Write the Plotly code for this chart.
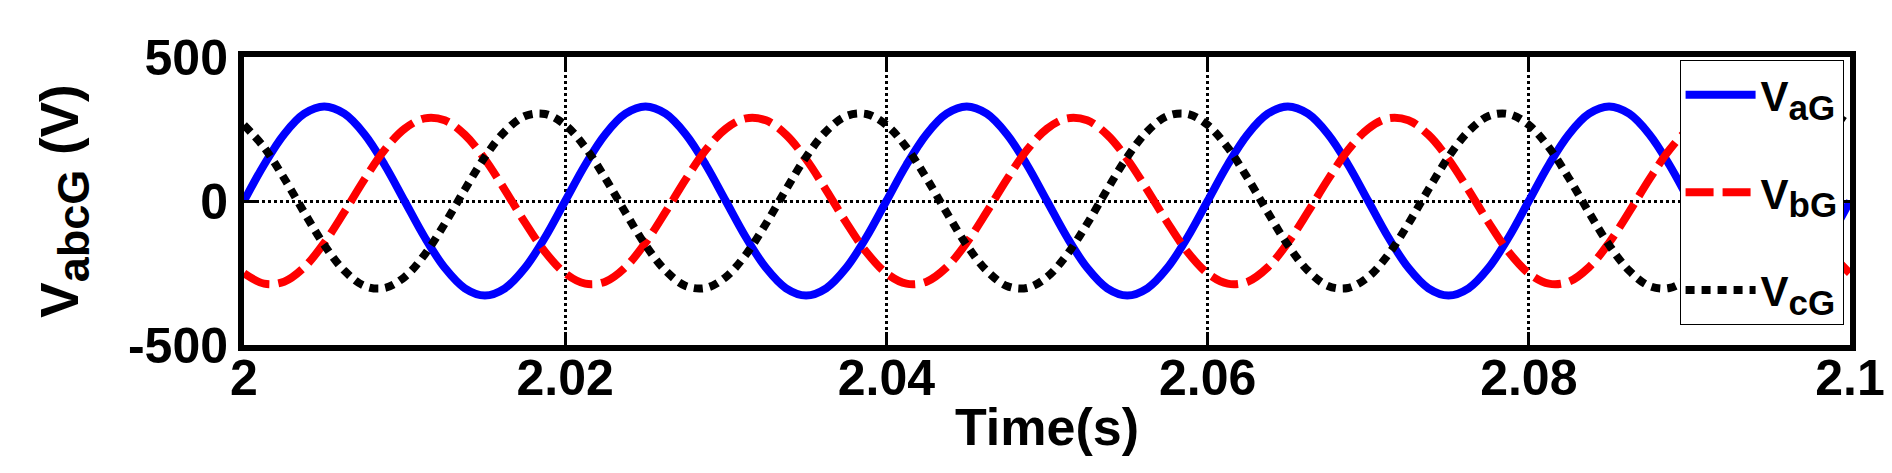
import plotly.graph_objects as go

# sampling grid (s)
time = [round(2 + i * 0.00125, 5) for i in range(81)]

v_aG = [0, 126, 232, 303, 328, 303, 232, 126, 0, -126, -232, -303, -328, -303, -232, -126,
        0, 126, 232, 303, 328, 303, 232, 126, 0, -126, -232, -303, -328, -303, -232, -126,
        0, 126, 232, 303, 328, 303, 232, 126, 0, -126, -232, -303, -328, -303, -232, -126,
        0, 126, 232, 303, 328, 303, 232, 126, 0, -126, -232, -303, -328, -303, -232, -126,
        0, 126, 232, 303, 328, 303, 232, 126, 0, -126, -232, -303, -328, -303, -232, -126,
        0]
v_bG = [-251, -287, -280, -230, -145, -38, 75, 177, 251, 287, 280, 230, 145, 38, -75, -177,
        -251, -287, -280, -230, -145, -38, 75, 177, 251, 287, 280, 230, 145, 38, -75, -177,
        -251, -287, -280, -230, -145, -38, 75, 177, 251, 287, 280, 230, 145, 38, -75, -177,
        -251, -287, -280, -230, -145, -38, 75, 177, 251, 287, 280, 230, 145, 38, -75, -177,
        -251, -287, -280, -230, -145, -38, 75, 177, 251, 287, 280, 230, 145, 38, -75, -177,
        -251]
v_cG = [264, 186, 79, -40, -153, -242, -295, -302, -264, -186, -79, 40, 153, 242, 295, 302,
        264, 186, 79, -40, -153, -242, -295, -302, -264, -186, -79, 40, 153, 242, 295, 302,
        264, 186, 79, -40, -153, -242, -295, -302, -264, -186, -79, 40, 153, 242, 295, 302,
        264, 186, 79, -40, -153, -242, -295, -302, -264, -186, -79, 40, 153, 242, 295, 302,
        264, 186, 79, -40, -153, -242, -295, -302, -264, -186, -79, 40, 153, 242, 295, 302,
        264]

x_ticks = [2, 2.02, 2.04, 2.06, 2.08, 2.1]
x_ticktext = ["2", "2.02", "2.04", "2.06", "2.08", "2.1"]
y_ticks = [-500, 0, 500]
y_ticktext = ["-500", "0", "500"]

FONT = "Liberation Sans, Arial, sans-serif"
SUB = '<sub><span style="font-size:{}px">{}</span></sub>'

fig = go.Figure()
series = [
    ("V" + SUB.format(35, "aG"), v_aG, "#0000ff", "solid"),
    ("V" + SUB.format(35, "bG"), v_bG, "#ff0000", "28px,9px"),
    ("V" + SUB.format(35, "cG"), v_cG, "#000000", "9px,7px"),
]
for i, (name, vals, col, dash) in enumerate(series):
    fig.add_trace(go.Scatter(
        x=time, y=vals, mode="lines", name=name, legendgroup=f"g{i}",
        line=dict(color=col, width=8, dash=dash, shape="spline"),
    ))

axis_common = dict(
    showline=True, linecolor="black", linewidth=6, mirror="allticks",
    ticks="inside", ticklen=13, tickwidth=3, tickcolor="black",
    showgrid=True, gridcolor="black", gridwidth=3, griddash="dot",
    zeroline=False,
    tickfont=dict(family=FONT, size=50, color="black", weight="bold"),
)

fig.update_xaxes(
    range=[2, 2.1], tickvals=x_ticks, ticktext=x_ticktext, ticklabelstandoff=-16,
    title=dict(text="Time(s)", font=dict(family=FONT, size=52, color="black", weight="bold"), standoff=6),
    **axis_common,
)
fig.update_yaxes(
    range=[-500, 500], tickvals=y_ticks, ticktext=y_ticktext,
    title=dict(text="V" + SUB.format(45, "abcG") + " (V)",
               font=dict(family=FONT, size=53, color="black", weight="bold"), standoff=34),
    **axis_common,
)

fig.update_layout(
    width=1892, height=473,
    margin=dict(l=236, r=50, t=49, b=136),
    plot_bgcolor="white", paper_bgcolor="white",
    showlegend=True,
    legend=dict(
        x=0.996, y=0.99, xanchor="right", yanchor="top",
        bgcolor="white", bordercolor="black", borderwidth=1,
        font=dict(family=FONT, size=42, color="black", weight="bold"),
        tracegroupgap=40, itemwidth=70,
    ),
)

fig.write_html("out.html")
